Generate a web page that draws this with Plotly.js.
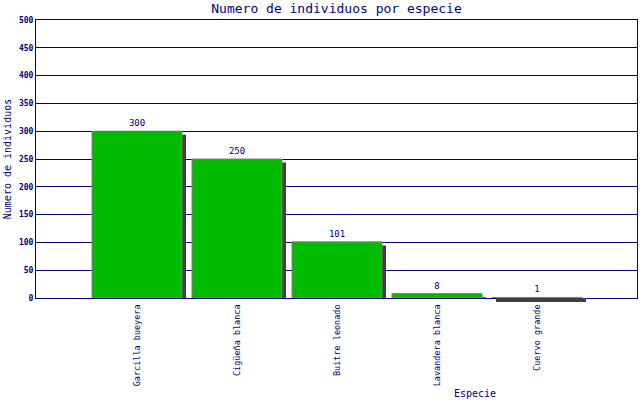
<!DOCTYPE html>
<html>
<head>
<meta charset="utf-8">
<script src="https://cdn.plot.ly/plotly-3.0.1.min.js"></script>
<style>html,body{margin:0;padding:0;background:#fff;}#chart{width:640px;height:400px;}</style>
</head>
<body>
<div id="chart"></div>
<script>
const categories = ["Garcilla bueyera", "Cigüeña blanca", "Buitre leonado", "Lavandera blanca", "Cuervo grande"];
const values = [300, 250, 101, 8, 1];
const yTicks = [0, 50, 100, 150, 200, 250, 300, 350, 400, 450, 500];

const navy = "#000080";
const shadowColor = "#404040";
const mono = "DejaVu Sans Mono, Liberation Mono, monospace";
const idx = categories.map((c, i) => i);

// drop shadow, offset down by SH units and right by DX category units
const SH = 6.5, DX = 0.04;
const big = values.map(v => v > SH);
const shadowBars = {
  type: "bar", x: idx, y: values.map((v, i) => big[i] ? v - SH : null), base: 0,
  width: 0.9, offset: -0.45 + DX,
  marker: {color: shadowColor, line: {width: 0}},
  hoverinfo: "skip", showlegend: false
};
const bars = {
  type: "bar", x: idx, y: values,
  width: 0.9, offset: -0.45,
  marker: {color: "#00bb00", line: {color: "#808080", width: 1}},
  text: values.map(String), textposition: "outside",
  textfont: {family: mono, size: 9, color: navy},
  cliponaxis: false, showlegend: false
};

// bars thinner than the shadow get their shadow drawn just below the axis
const thinShadows = idx.filter(i => !big[i]).map(i => ({
  text: " ", xref: "x", yref: "y", x: i + DX, y: 0, xanchor: "center", yanchor: "top",
  width: 90, height: 3.5, borderpad: 0, borderwidth: 0, bgcolor: shadowColor,
  showarrow: false, font: {size: 1}
}));

const layout = {
  width: 640, height: 400,
  margin: {l: 36, r: 3, t: 20, b: 102},
  paper_bgcolor: "#fff", plot_bgcolor: "#fff",
  barmode: "overlay",
  title: {text: "Numero de individuos por especie", font: {family: mono, size: 13, color: navy}, x: 0.5, xref: "paper", xanchor: "center", y: 0.978, yanchor: "middle"},
  xaxis: {
    range: [-1.01, 5], tickvals: idx, ticktext: categories, tickangle: -90,
    tickfont: {family: mono, size: 8.5, color: navy}, ticklabelstandoff: 2,
    showgrid: false, zeroline: false, showline: true, linecolor: navy, linewidth: 1, mirror: true,
    ticks: "", ticklen: 0
  },
  yaxis: {
    range: [0, 500], tickvals: yTicks, ticktext: yTicks.map(String),
    tickfont: {family: mono, size: 8, color: navy, weight: "bold"},
    showgrid: true, gridcolor: navy, gridwidth: 1, zeroline: false,
    showline: true, linecolor: navy, linewidth: 1, mirror: true, ticks: "",
    title: {text: "Numero de individuos", font: {family: mono, size: 10, color: navy}, standoff: 5}
  },
  annotations: [{
    text: "Especie", xref: "paper", yref: "paper", x: 0.73, y: -0.345, xanchor: "center", yanchor: "middle",
    showarrow: false, font: {family: mono, size: 10, color: navy}
  }].concat(thinShadows)
};

Plotly.newPlot("chart", [shadowBars, bars], layout, {displayModeBar: false, staticPlot: true});
</script>
</body>
</html>
